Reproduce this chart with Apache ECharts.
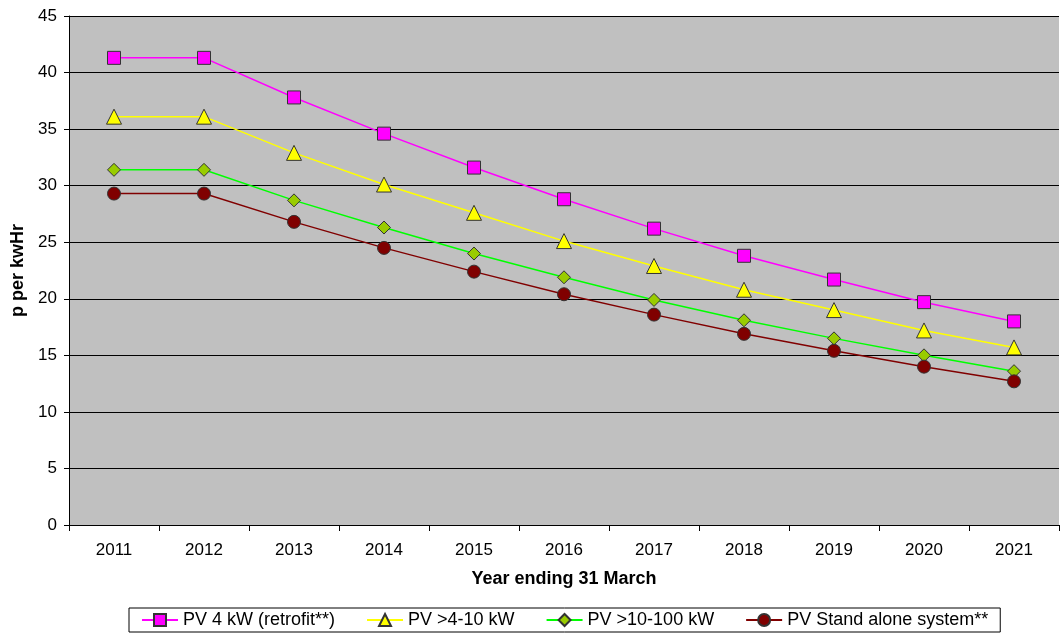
<!DOCTYPE html>
<html>
<head>
<meta charset="utf-8">
<script src="https://cdn.jsdelivr.net/npm/echarts@6/dist/echarts.min.js"></script>
<style>html,body{margin:0;padding:0;background:#fff;}#c{width:1060px;height:637px;}</style>
</head>
<body>
<div id="c"></div>
<script>
var years = ['2011','2012','2013','2014','2015','2016','2017','2018','2019','2020','2021'];
var yTicks = [0,5,10,15,20,25,30,35,40,45];
var seriesNames = ['PV 4 kW (retrofit**)','PV >4-10 kW','PV >10-100 kW','PV Stand alone system**'];
var pv4 = [41.3,41.3,37.8,34.6,31.6,28.8,26.2,23.8,21.7,19.7,18.0];
var pv4to10 = [36.1,36.1,32.9,30.1,27.6,25.1,22.9,20.8,19.0,17.2,15.7];
var pv10to100 = [31.4,31.4,28.7,26.3,24.0,21.9,19.9,18.1,16.5,15.0,13.6];
var pvStandAlone = [29.3,29.3,26.8,24.5,22.4,20.4,18.6,16.9,15.4,14.0,12.7];

var font = 'Liberation Sans, Arial, sans-serif';
function mk(name, data, lineColor, fill, symbol, size) {
  return {
    name: name, type: 'line', data: data,
    symbol: symbol, symbolSize: size,
    lineStyle: {color: lineColor, width: 1.5},
    itemStyle: {color: fill, borderColor: '#333', borderWidth: 1},
    animation: false
  };
}
var chart = echarts.init(document.getElementById('c'), null, {renderer: 'canvas'});
chart.setOption({
  animation: false,
  grid: {left: 69, top: 16, right: 1, bottom: 112, show: true, backgroundColor: '#C0C0C0', borderWidth: 0},
  xAxis: {
    type: 'category', data: years, boundaryGap: true,
    name: 'Year ending 31 March', nameLocation: 'middle', nameGap: 45,
    nameTextStyle: {fontFamily: font, fontSize: 18, fontWeight: 'bold', color: '#000'},
    axisLine: {lineStyle: {color: '#000', width: 1}},
    axisTick: {show: true, length: 6, lineStyle: {color: '#000'}},
    axisLabel: {fontFamily: font, fontSize: 17, color: '#000', margin: 17},
    splitLine: {show: false}
  },
  yAxis: {
    type: 'value', min: yTicks[0], max: yTicks[yTicks.length-1], interval: 5,
    name: 'p per kwHr', nameLocation: 'middle', nameGap: 39, nameRotate: 90,
    nameTextStyle: {fontFamily: font, fontSize: 18, fontWeight: 'bold', color: '#000'},
    axisLine: {show: true, lineStyle: {color: '#000', width: 1}},
    axisTick: {show: true, length: 5, lineStyle: {color: '#000'}},
    axisLabel: {fontFamily: font, fontSize: 17, color: '#000', margin: 12},
    splitLine: {show: true, lineStyle: {color: '#000', width: 1}}
  },
  legend: {
    left: 129, top: 608,
    borderColor: '#000', borderWidth: 1, padding: [3, 12, 3, 12],
    itemGap: 31, itemWidth: 36, itemHeight: 15,
    textStyle: {fontFamily: font, fontSize: 18, color: '#000'},
    data: seriesNames
  },
  series: [
    mk(seriesNames[0], pv4, '#FF00FF', '#FF00FF', 'rect', 13),
    mk(seriesNames[1], pv4to10, '#FFFF00', '#FFFF00', 'triangle', 15),
    mk(seriesNames[2], pv10to100, '#00FF00', '#99CC00', 'diamond', 13),
    mk(seriesNames[3], pvStandAlone, '#800000', '#800000', 'circle', 13)
  ]
});
</script>
</body>
</html>
